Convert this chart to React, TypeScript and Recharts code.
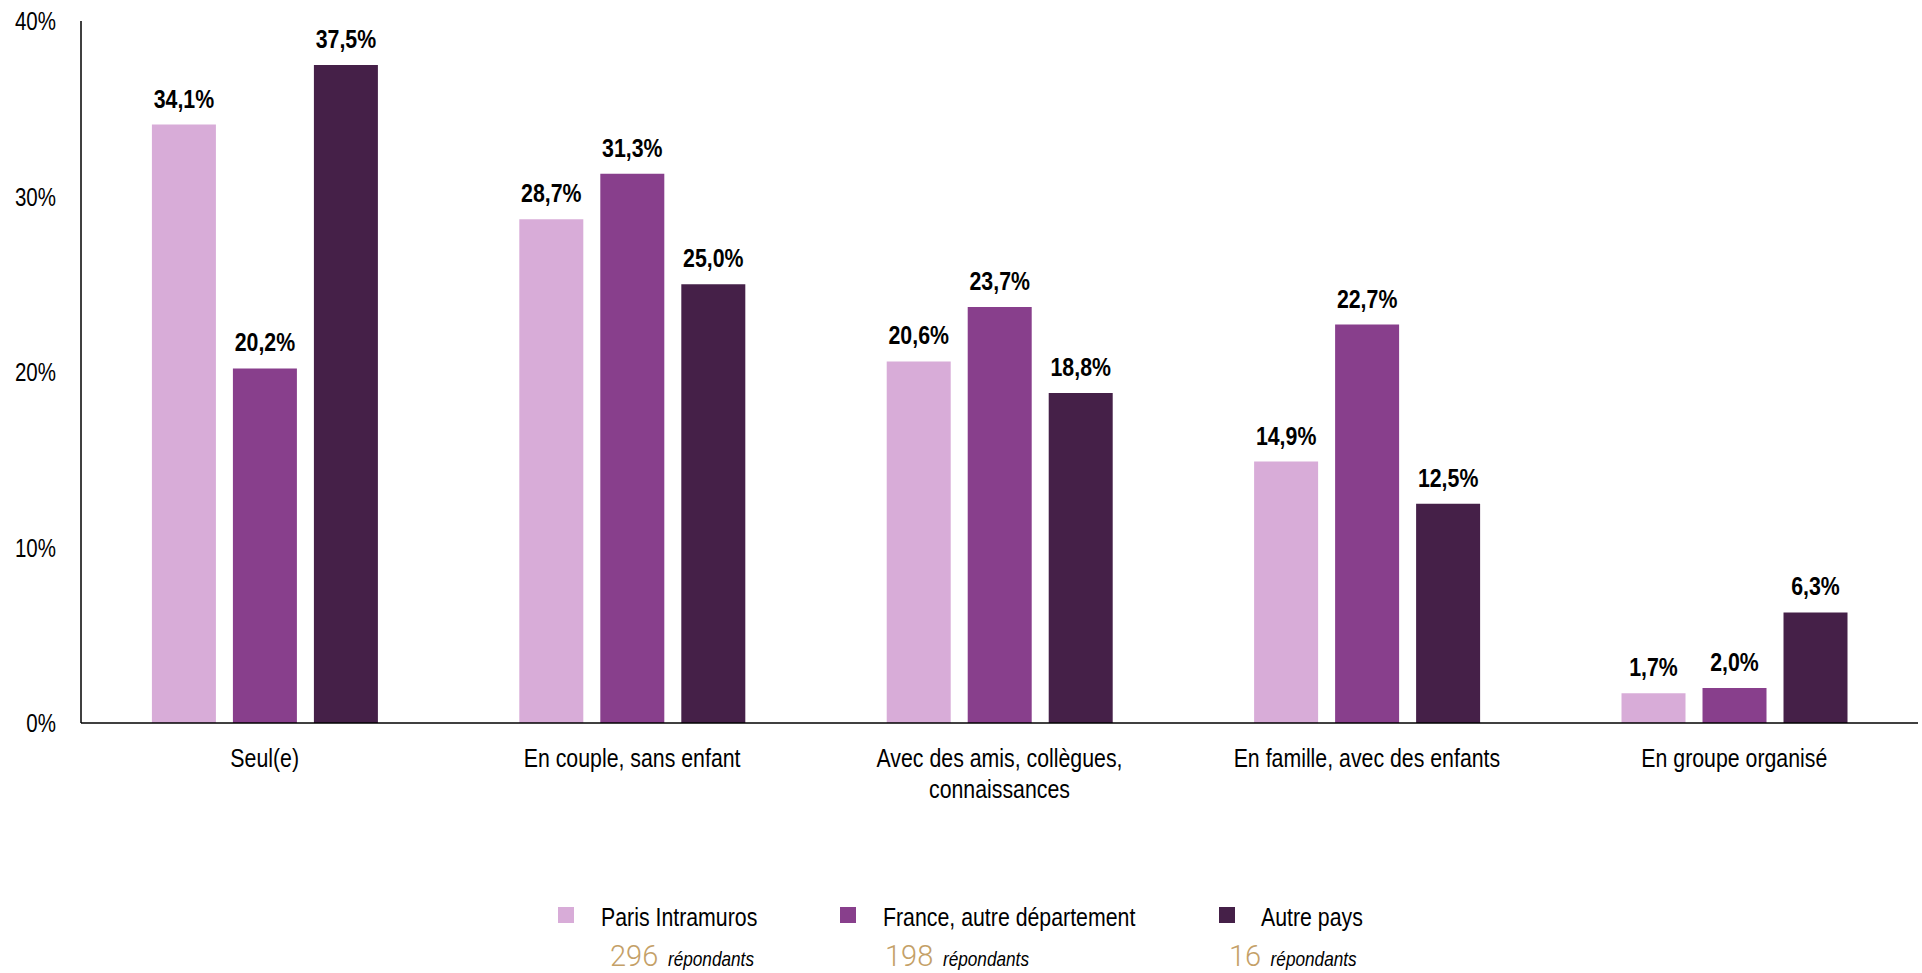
import { BarChart, Bar, XAxis, YAxis, LabelList } from 'recharts'

const categories = [
  'Seul(e)',
  'En couple, sans enfant',
  'Avec des amis, collègues,\nconnaissances',
  'En famille, avec des enfants',
  'En groupe organisé',
]
const parisValues = [34.1, 28.7, 20.6, 14.9, 1.7]
const franceValues = [20.2, 31.3, 23.7, 22.7, 2.0]
const autreValues = [37.5, 25.0, 18.8, 12.5, 6.3]
const yTicks = [0, 10, 20, 30, 40]

const seriesKeys = ['paris', 'france', 'autre']
const seriesNames = ['Paris Intramuros', 'France, autre département', 'Autre pays']
const respondents = [296, 198, 16]
const colors = ['#D8ACD8', '#883F8C', '#452048']

// pas d'Arial Narrow : Liberation Sans compressée horizontalement
const FONT = "'Liberation Sans', Arial, sans-serif"
const NARROW = 0.82

const data = categories.map((name, i) => ({
  name,
  paris: parisValues[i],
  france: franceValues[i],
  autre: autreValues[i],
}))

const fmt = (v: number) => `${v.toFixed(1).replace('.', ',')}%`

const Narrow = ({ x, y, anchor = 'start', size, weight = 400, italic = false, children }: any) => (
  <text
    transform={`translate(${x},${y}) scale(${NARROW},1)`}
    textAnchor={anchor}
    fontSize={size}
    fontWeight={weight}
    fontStyle={italic ? 'italic' : 'normal'}
    fill='#000'
    fontFamily={FONT}
  >
    {children}
  </text>
)

const CategoryTick = ({ x, y, payload }: any) => {
  const lines = String(payload.value).split('\n')
  return (
    <g>
      {lines.map((l, i) => (
        <Narrow key={i} x={x} y={y + 18.5 + i * 31} anchor='middle' size={26}>
          {l}
        </Narrow>
      ))}
    </g>
  )
}

const PercentTick = ({ x, y, payload }: any) => (
  <Narrow x={x} y={y + 9} anchor='end' size={25}>
    {`${payload.value}%`}
  </Narrow>
)

const ValueLabel = ({ x, y, width, value }: any) => (
  <Narrow x={Number(x) + Number(width) / 2} y={Number(y) - 17} anchor='middle' size={26} weight={700}>
    {fmt(Number(value))}
  </Narrow>
)

// positions de la légende (bloc sous le graphique)
const legendSquareX = [558, 840, 1219]
const legendLabelX = [601, 883, 1261]
const legendCountX = [610, 885, 1229]

export default function App() {
  return (
    <div style={{ position: 'absolute', left: 0, top: 0, width: 1922, height: 973, background: '#fff' }}>
      <BarChart
        width={1922}
        height={973}
        data={data}
        margin={{ top: 21, right: 4, bottom: 190, left: 11 }}
        barCategoryGap='19.3%'
        barGap={17}
      >
        <XAxis
          dataKey='name'
          height={60}
          interval={0}
          tickLine={false}
          tickSize={0}
          tickMargin={25}
          axisLine={{ stroke: '#000', strokeWidth: 1.5 }}
          tick={<CategoryTick />}
        />
        <YAxis
          width={70}
          domain={[0, 40]}
          ticks={yTicks}
          tickLine={false}
          tickSize={0}
          tickMargin={25}
          axisLine={{ stroke: '#000', strokeWidth: 1.5 }}
          tick={<PercentTick />}
        />
        {seriesKeys.map((k, i) => (
          <Bar key={k} dataKey={k} fill={colors[i]} isAnimationActive={false}>
            <LabelList dataKey={k} content={<ValueLabel />} />
          </Bar>
        ))}
      </BarChart>

      <svg
        width={1922}
        height={973}
        style={{ position: 'absolute', left: 0, top: 0, pointerEvents: 'none' }}
      >
        {seriesNames.map((name, i) => (
          <g key={name}>
            <rect x={legendSquareX[i]} y={907} width={16} height={16} fill={colors[i]} />
            <Narrow x={legendLabelX[i]} y={926} size={26}>
              {name}
            </Narrow>
            <text
              x={legendCountX[i]}
              y={966}
              fontSize={29}
              fontWeight={300}
              fill='#C4A067'
              fontFamily="Roboto, 'Open Sans', sans-serif"
            >
              {respondents[i]}
            </text>
            <Narrow x={legendCountX[i] + (String(respondents[i]).length * 16.3) + 9} y={966} size={21} italic>
              répondants
            </Narrow>
          </g>
        ))}
      </svg>
    </div>
  )
}
